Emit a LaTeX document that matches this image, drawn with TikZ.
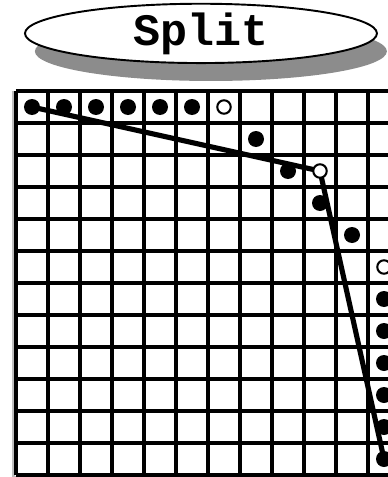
\documentclass[tikz,border=0pt]{standalone}
\usepackage{fontspec}
\setmonofont{Liberation Mono}
\usepackage{tikz}
\usetikzlibrary{shapes.geometric, shadows}
\pgfdeclarelayer{background}
\pgfsetlayers{background,main}

\tikzset{
    dot/.style={circle, fill=black, inner sep=0pt, minimum size=0.5cm},
    hollow/.style={circle, draw=black, line width=0.65mm, fill=white, inner sep=0pt, minimum size=0.42cm},
    title/.style={ellipse, draw=black, line width=0.6mm, fill=white, inner sep=0pt,
        minimum width=11cm, minimum height=1.82cm,
        drop shadow={shadow xshift=0.31cm, shadow yshift=-0.56cm, fill=black!45, opacity=1},
        font=\fontsize{40}{40}\selectfont\ttfamily\bfseries},
    fit line/.style={line width=1.6mm, line cap=round, line join=round}
}

\begin{document}
\begin{tikzpicture}

    % Frame of the picture
    \useasboundingbox (-0.5,-12.0625) rectangle (11.625,2.84375);
    \clip (-0.5,-12.0625) rectangle (11.625,2.84375);

    % Title
    \node[title] (split) at (5.78,1.8) {\raisebox{-0.12cm}{Split}};

    % Grid of cells
    \begin{pgfonlayer}{background}
    \draw[black!25, line width=1mm] (-0.07,0) -- (-0.07,-12.07) -- (12,-12.07);
    \draw[line width=1.1mm] (0,0) grid (12,-12);
    \end{pgfonlayer}

    % Points of the first run
    \foreach \c in {0,...,5} {
        \node[dot] (r0c\c) at (\c+0.5,-0.5) {};
    }
    \node[hollow] (r0c6) at (6.5,-0.5) {};
    \node[dot] (r1c7) at (7.5,-1.5) {};
    \node[dot] (r2c8) at (8.5,-2.5) {};
    \node[hollow] (r2c9) at (9.5,-2.5) {}; % split point
    \node[dot] (r3c9) at (9.5,-3.5) {};
    \node[dot] (r4c10) at (10.5,-4.5) {};

    % Points of the second run
    \node[hollow] (r5c11) at (11.5,-5.5) {};
    \foreach \r in {6,...,11} {
        \node[dot] (r\r c11) at (11.5,-\r-0.5) {};
    }

    % The two segments
    \begin{pgfonlayer}{background}
    \draw[fit line] (r0c0.center) -- (r2c9.center) -- (r11c11.center);
    \end{pgfonlayer}

\end{tikzpicture}
\end{document}
